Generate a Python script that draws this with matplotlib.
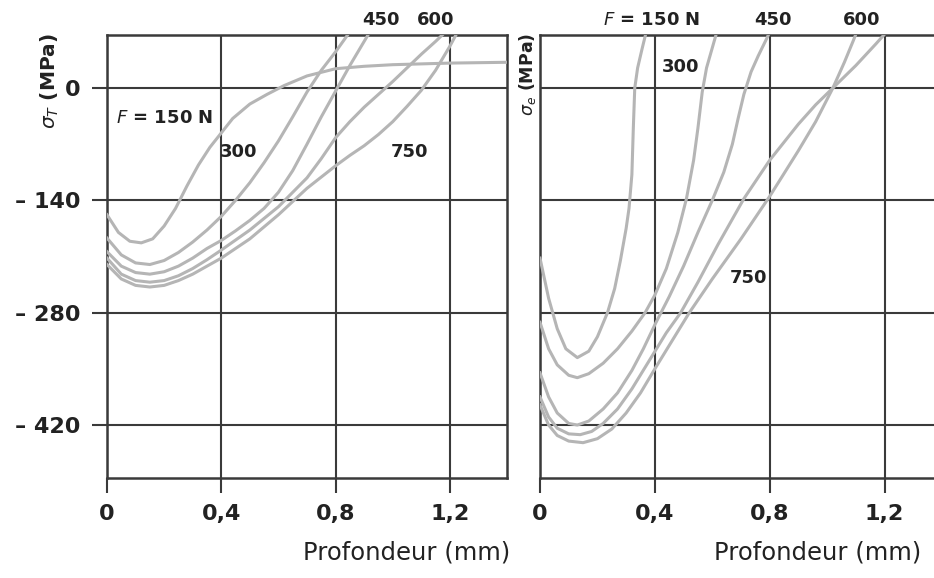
import numpy as np
from matplotlib import pyplot as plt

# sigma_T (left panel), depth in mm, stress in MPa
xt_150 = [0, 0.04, 0.08, 0.12, 0.16, 0.2, 0.24, 0.28, 0.32, 0.36, 0.4, 0.44, 0.5, 0.56, 0.62, 0.7, 0.8, 0.9, 1.0, 1.2, 1.4]
yt_150 = [-158, -180, -191, -193, -188, -172, -150, -122, -96, -74, -56, -38, -20, -8, 3, 15, 24, 27, 29, 31, 32]
xt_300 = [0, 0.05, 0.1, 0.15, 0.2, 0.25, 0.3, 0.35, 0.4, 0.45, 0.5, 0.55, 0.6, 0.65, 0.7, 0.75, 0.8, 0.85]
yt_300 = [-187, -208, -218, -220, -215, -205, -192, -177, -160, -140, -118, -93, -66, -36, -5, 22, 45, 70]
xt_450 = [0, 0.05, 0.1, 0.15, 0.2, 0.25, 0.3, 0.35, 0.4, 0.45, 0.5, 0.55, 0.6, 0.65, 0.7, 0.75, 0.8, 0.85, 0.9, 0.95]
yt_450 = [-204, -222, -230, -232, -229, -222, -212, -200, -190, -178, -165, -150, -130, -103, -70, -36, -4, 28, 58, 88]
xt_600 = [0, 0.05, 0.1, 0.15, 0.2, 0.25, 0.3, 0.35, 0.4, 0.5, 0.6, 0.7, 0.75, 0.8, 0.85, 0.9, 0.95, 1.0, 1.05, 1.1, 1.15, 1.2]
yt_600 = [-212, -232, -240, -242, -240, -234, -225, -214, -202, -177, -148, -112, -88, -62, -42, -24, -8, 8, 25, 42, 58, 75]
xt_750 = [0, 0.05, 0.1, 0.15, 0.2, 0.25, 0.3, 0.35, 0.4, 0.5, 0.6, 0.7, 0.8, 0.85, 0.9, 0.95, 1.0, 1.05, 1.1, 1.15, 1.2, 1.25]
yt_750 = [-220, -238, -246, -248, -246, -240, -232, -222, -212, -188, -158, -125, -97, -84, -72, -58, -42, -23, -3, 22, 52, 85]

# sigma_e (right panel)
xe_150 = [0, 0.03, 0.06, 0.09, 0.13, 0.17, 0.2, 0.235, 0.26, 0.28, 0.3, 0.31, 0.32, 0.325, 0.33, 0.34, 0.355, 0.37]
ye_150 = [-212, -262, -300, -325, -336, -328, -310, -280, -250, -215, -175, -150, -108, -50, 0, 25, 48, 70]
xe_300 = [0, 0.03, 0.06, 0.1, 0.13, 0.17, 0.22, 0.27, 0.32, 0.366, 0.4, 0.44, 0.48, 0.51, 0.535, 0.55, 0.565, 0.58, 0.6, 0.62]
ye_300 = [-292, -325, -345, -358, -361, -356, -343, -325, -303, -280, -258, -225, -180, -138, -90, -50, -5, 25, 50, 75]
xe_450 = [0, 0.03, 0.06, 0.1, 0.13, 0.17, 0.22, 0.27, 0.32, 0.36, 0.4, 0.45, 0.5, 0.55, 0.6, 0.64, 0.67, 0.69, 0.71, 0.735, 0.76, 0.79, 0.82]
ye_450 = [-355, -385, -405, -418, -420, -415, -400, -380, -352, -325, -295, -260, -222, -180, -140, -105, -70, -38, -8, 20, 40, 62, 85]
xe_600 = [0, 0.03, 0.06, 0.1, 0.14, 0.18, 0.22, 0.27, 0.32, 0.38, 0.44, 0.49, 0.55, 0.62, 0.71, 0.8, 0.9, 0.96, 1.02, 1.1, 1.17, 1.2]
ye_600 = [-385, -410, -424, -431, -432, -428, -418, -400, -375, -340, -305, -280, -242, -195, -138, -90, -45, -21, 0, 28, 55, 67]
xe_750 = [0, 0.03, 0.06, 0.1, 0.15, 0.2, 0.25, 0.3, 0.35, 0.4, 0.46, 0.52, 0.6, 0.7, 0.8, 0.9, 0.96, 1.02, 1.06, 1.09, 1.12]
ye_750 = [-395, -420, -433, -440, -442, -437, -425, -405, -380, -350, -315, -280, -238, -188, -135, -78, -42, 0, 32, 58, 85]

x_ticks = [0, 0.4, 0.8, 1.2]
x_ticklabels = ['0', '0,4', '0,8', '1,2']
y_ticks = [0, -140, -280, -420]
y_ticklabels = ['0', '– 140', '– 280', '– 420']

curve_color = '#b5b5b5'
grid_color = '#3a3a3a'
text_color = '#222222'

fig = plt.figure(figsize=(9.34, 5.78), dpi=100)
ax1 = fig.add_axes([107 / 934, 100 / 578, 400 / 934, 443 / 578])
ax2 = fig.add_axes([540 / 934, 100 / 578, 402 / 934, 443 / 578])


def style_axes(ax, show_y):
    ax.set_xlim(0, 1.4)
    ax.set_ylim(-486, 66)
    ax.set_xticks(x_ticks)
    ax.set_xticklabels(x_ticklabels)
    ax.set_yticks(y_ticks)
    if show_y:
        ax.set_yticklabels(y_ticklabels)
        ax.tick_params(axis='y', direction='out', length=11, width=1.5, color=grid_color,
                       labelsize=16, labelcolor=text_color, pad=8)
    else:
        ax.set_yticklabels([])
        ax.tick_params(axis='y', length=0)
    ax.tick_params(axis='x', direction='out', length=11, width=1.5, color=grid_color,
                   labelsize=16, labelcolor=text_color, pad=8)
    for lab in ax.get_xticklabels() + ax.get_yticklabels():
        lab.set_fontweight('bold')
    ax.grid(True, color=grid_color, linewidth=1.5)
    ax.set_axisbelow(True)
    for sp in ax.spines.values():
        sp.set_color(grid_color)
        sp.set_linewidth(1.8)


style_axes(ax1, True)
style_axes(ax2, False)

for xs, ys in [(xt_150, yt_150), (xt_300, yt_300), (xt_450, yt_450), (xt_600, yt_600), (xt_750, yt_750)]:
    ax1.plot(xs, ys, color=curve_color, linewidth=2.2, solid_joinstyle='round', zorder=3)
for xs, ys in [(xe_150, ye_150), (xe_300, ye_300), (xe_450, ye_450), (xe_600, ye_600), (xe_750, ye_750)]:
    ax2.plot(xs, ys, color=curve_color, linewidth=2.2, solid_joinstyle='round', zorder=3)

# curve labels
lab_kw = dict(fontsize=13, fontweight='bold', color=text_color, ha='center', va='center',
              clip_on=False, zorder=5)
ax1.text(0.2, -37, r'$F$ = 150 N', **lab_kw)
ax1.text(0.46, -80, '300', **lab_kw)
ax1.text(0.96, 85, '450', **lab_kw)
ax1.text(1.15, 85, '600', **lab_kw)
ax1.text(1.06, -80, '750', **lab_kw)

ax2.text(0.387, 85, r'$F$ = 150 N', **lab_kw)
ax2.text(0.49, 26, '300', **lab_kw)
ax2.text(0.81, 85, '450', **lab_kw)
ax2.text(1.12, 85, '600', **lab_kw)
ax2.text(0.725, -237, '750', **lab_kw)

# axis titles
ax1.text(-0.1425, 1.005, r'$\sigma_T$ (MPa)', transform=ax1.transAxes, rotation=90,
         ha='center', va='top', fontsize=14.5, fontweight='bold', color=text_color)
ax2.text(-0.03, 1.005, r'$\sigma_e$ (MPa)', transform=ax2.transAxes, rotation=90,
         ha='center', va='top', fontsize=12.5, fontweight='bold', color=text_color)

ax1.set_xlabel('Profondeur (mm)', fontsize=17.5, color=text_color)
ax1.xaxis.set_label_coords(0.75, -0.169)
ax2.set_xlabel('Profondeur (mm)', fontsize=17.5, color=text_color)
ax2.xaxis.set_label_coords(0.69, -0.169)
for ax in (ax1, ax2):
    ax.xaxis.label.set_va('center')

fig.savefig('out.png', dpi=100)
